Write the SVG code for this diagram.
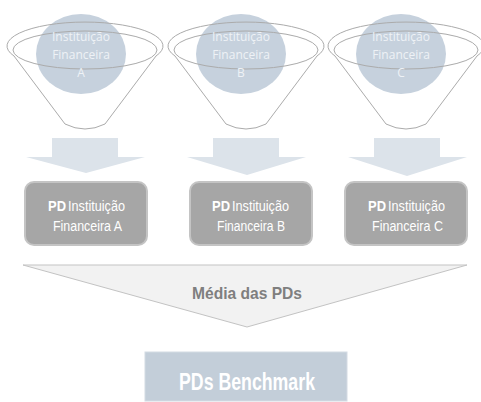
<svg xmlns="http://www.w3.org/2000/svg" width="481" height="402" viewBox="0 0 481 402">
<defs>
<style>
.bg{fill:#ffffff}
.circ{fill:#c6d1dd}
.fun{fill:none;stroke:#ababab;stroke-width:1}
.ctext{font-family:"Open Sans","DejaVu Sans",sans-serif;font-size:12px;fill:#eef2f6;text-anchor:middle}
.arrow{fill:#dce3ea}
.box{fill:#a6a6a6;stroke:#c4c4c4;stroke-width:2}
.btext{font-family:"Liberation Sans",Arial,sans-serif;font-size:14px;fill:#ffffff}
.bold{font-weight:bold}
.tri{fill:#f2f2f2;stroke:#c3c3c3;stroke-width:1}
.ttext{font-family:"Liberation Sans",Arial,sans-serif;font-size:17px;font-weight:bold;fill:#7f7f7f;text-anchor:middle}
.bench{fill:#c3ced9;stroke:#d4dbe3;stroke-width:1}
.benchtext{font-family:"Liberation Sans",Arial,sans-serif;font-size:23px;font-weight:bold;fill:#ffffff;text-anchor:middle}
</style>
</defs>
<rect class="bg" x="0" y="0" width="481" height="402"/>

<g id="funnel-a">
<ellipse class="circ" cx="81" cy="54" rx="45" ry="40"/>
<path class="fun" d="M 14,56 A 78 24 0 1 1 156,56 L 105,124 Q 85,134 65,124 Z"/>
<ellipse class="fun" cx="85" cy="50" rx="72" ry="19"/>
<text class="ctext" x="81" y="41">Instituição</text>
<text class="ctext" x="81" y="59">Financeira</text>
<text class="ctext" x="81" y="77">A</text>
</g>

<g id="funnel-b">
<ellipse class="circ" cx="241" cy="54" rx="45" ry="40"/>
<path class="fun" d="M 175,56 A 78 24 0 1 1 317,56 L 266,124 Q 246,134 226,124 Z"/>
<ellipse class="fun" cx="246" cy="50" rx="72" ry="19"/>
<text class="ctext" x="241" y="41">Instituição</text>
<text class="ctext" x="241" y="59">Financeira</text>
<text class="ctext" x="241" y="77">B</text>
</g>

<g id="funnel-c">
<ellipse class="circ" cx="401" cy="54" rx="45" ry="40"/>
<path class="fun" d="M 335,56 A 78 24 0 1 1 477,56 L 426,124 Q 406,134 386,124 Z"/>
<ellipse class="fun" cx="406" cy="50" rx="72" ry="19"/>
<text class="ctext" x="401" y="41">Instituição</text>
<text class="ctext" x="401" y="59">Financeira</text>
<text class="ctext" x="401" y="77">C</text>
</g>

<g id="connectors">
<path class="arrow" d="M 52,138 H 118 V 157 H 145 L 86,173 L 26,157 H 52 Z"/>
<path class="arrow" d="M 213,138 H 279 V 157 H 306 L 247,175 L 187,157 H 213 Z"/>
<path class="arrow" d="M 374,138 H 440 V 157 H 467 L 407,176 L 348,157 H 374 Z"/>
</g>

<g id="pd-a">
<rect class="box" x="25" y="182" width="122" height="63" rx="9"/>
<text class="btext bold" x="48" y="211" textLength="18" lengthAdjust="spacingAndGlyphs">PD</text>
<text class="btext" x="68" y="211" textLength="57" lengthAdjust="spacingAndGlyphs">Instituição</text>
<text class="btext" x="53" y="231" textLength="69" lengthAdjust="spacingAndGlyphs">Financeira A</text>
</g>

<g id="pd-b">
<rect class="box" x="190" y="182" width="122" height="63" rx="9"/>
<text class="btext bold" x="212" y="211" textLength="18" lengthAdjust="spacingAndGlyphs">PD</text>
<text class="btext" x="232" y="211" textLength="57" lengthAdjust="spacingAndGlyphs">Instituição</text>
<text class="btext" x="217" y="231" textLength="68" lengthAdjust="spacingAndGlyphs">Financeira B</text>
</g>

<g id="pd-c">
<rect class="box" x="345" y="182" width="122" height="63" rx="9"/>
<text class="btext bold" x="368" y="211" textLength="18" lengthAdjust="spacingAndGlyphs">PD</text>
<text class="btext" x="388" y="211" textLength="57" lengthAdjust="spacingAndGlyphs">Instituição</text>
<text class="btext" x="372" y="231" textLength="71" lengthAdjust="spacingAndGlyphs">Financeira C</text>
</g>

<g id="media">
<path class="tri" d="M 23,265 H 467 L 247,327 Z"/>
<text class="ttext" x="247" y="299" textLength="110" lengthAdjust="spacingAndGlyphs">Média das PDs</text>
</g>

<g id="benchmark">
<rect class="bench" x="145" y="352" width="202" height="49"/>
<text class="benchtext" x="247" y="390" textLength="136" lengthAdjust="spacingAndGlyphs">PDs Benchmark</text>
</g>
</svg>
